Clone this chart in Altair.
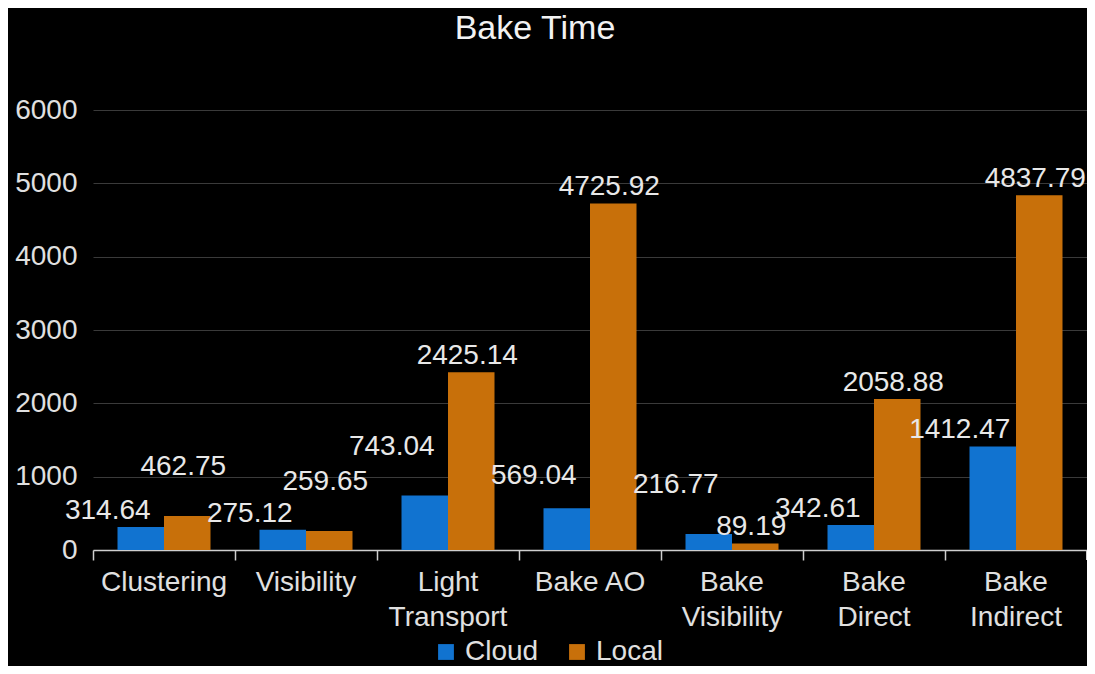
import altair as alt
import pandas as pd

categories = ["Clustering", "Visibility", "Light Transport", "Bake AO",
              "Bake Visibility", "Bake Direct", "Bake Indirect"]
series = ["Cloud", "Local"]
cloud = [314.64, 275.12, 743.04, 569.04, 216.77, 342.61, 1412.47]
local = [462.75, 259.65, 2425.14, 4725.92, 89.19, 2058.88, 4837.79]
y_ticks = [0, 1000, 2000, 3000, 4000, 5000, 6000]

rows = []
for c, v in zip(categories, cloud):
    rows.append({"category": c, "series": "Cloud", "value": v})
for c, v in zip(categories, local):
    rows.append({"category": c, "series": "Local", "value": v})
df = pd.DataFrame(rows)

FONT = "Liberation Sans"
FS = 28
W, H = 994, 440

# labels that the reference lifts clear of their neighbours (label layout only)
lifted = {"Clustering": "Local", "Visibility": "Local",
          "Light Transport": "Cloud", "Bake Visibility": "Cloud"}
half_lifted = {"Bake AO": "Cloud"}

x_axis = alt.Axis(title=None, labelAngle=0, bandPosition=0,
                  labelExpr="length(datum.label) > 8 && indexof(datum.label, ' ') > 0 ? split(datum.label, ' ') : datum.label",
                  labelFontSize=FS, labelColor="#e0e0e0", labelFont=FONT,
                  labelLineHeight=35, labelPadding=8, labelBaseline="top",
                  tickColor="#cfcfcf", tickSize=10, tickWidth=1.5,
                  domainColor="#cfcfcf", domainWidth=1.5, grid=False)
x_enc = alt.X("category:N", sort=categories,
              scale=alt.Scale(paddingInner=0, paddingOuter=0), axis=x_axis)
x_plain = alt.X("category:N", sort=categories)
xo_enc = alt.XOffset("series:N", sort=series,
                     scale=alt.Scale(paddingOuter=0.527, paddingInner=0))
y_enc = alt.Y("value:Q", scale=alt.Scale(domain=[0, 6000], nice=False),
              axis=alt.Axis(title=None, values=y_ticks, format="d", labelFontSize=FS,
                            labelColor="#e0e0e0", labelFont=FONT, labelPadding=16,
                            ticks=False, domain=False, gridColor="#3a3a3a",
                            gridWidth=1.2))

bars = alt.Chart(df).mark_bar(strokeWidth=0).encode(
    x=x_enc, xOffset=xo_enc, y=y_enc,
    color=alt.Color("series:N", sort=series,
                    scale=alt.Scale(domain=series, range=["#1173d0", "#c8700a"]),
                    legend=alt.Legend(title=None, orient="none", direction="horizontal",
                                      legendX=339, legendY=528, symbolType="square",
                                      symbolSize=250, symbolStrokeWidth=0,
                                      labelFontSize=FS, labelColor="#e0e0e0",
                                      labelFont=FONT, columnPadding=24,
                                      labelOffset=5)),
)


def label_layer(sel, dx, dy):
    return alt.Chart(df).transform_filter(sel).mark_text(
        fontSize=FS, font=FONT, color="#e8e8e8", baseline="alphabetic", dx=dx, dy=dy
    ).encode(x=x_plain, xOffset=xo_enc, y="value:Q",
             text=alt.Text("value:Q", format=".2f"))


def in_map(m):
    expr = " || ".join(
        f"(datum.category == '{c}' && datum.series == '{s}')" for c, s in m.items())
    return f"({expr})"


special = f"({in_map(lifted)} || {in_map(half_lifted)})"
layers = [bars]
for s, dx in (("Cloud", -33), ("Local", -4)):
    base = f"datum.series == '{s}'"
    layers.append(label_layer(f"{base} && !{special}", dx, -8))
    layers.append(label_layer(f"{base} && {in_map(lifted)}", dx, -41))
    layers.append(label_layer(f"{base} && {in_map(half_lifted)}", dx, -24))

end_tick = alt.Chart(df).mark_rule(color="#cfcfcf", strokeWidth=1.5).encode(
    x=alt.value(W), y=alt.value(H), y2=alt.value(H + 10))
layers.append(end_tick)

chart = alt.layer(*layers).properties(
    width=W, height=H,
    title=alt.Title("Bake Time", fontSize=34, font=FONT, color="#f2f2f2",
                    fontWeight="normal", anchor="middle", frame="group", dx=-55, offset=50),
    autosize=alt.AutoSizeParams(type="none"),
    padding={"left": 85, "top": 102, "right": 0, "bottom": 116},
    background="black",
).configure_view(stroke=None)

chart.save("out.html", embed_options={"renderer": "svg", "actions": False})
